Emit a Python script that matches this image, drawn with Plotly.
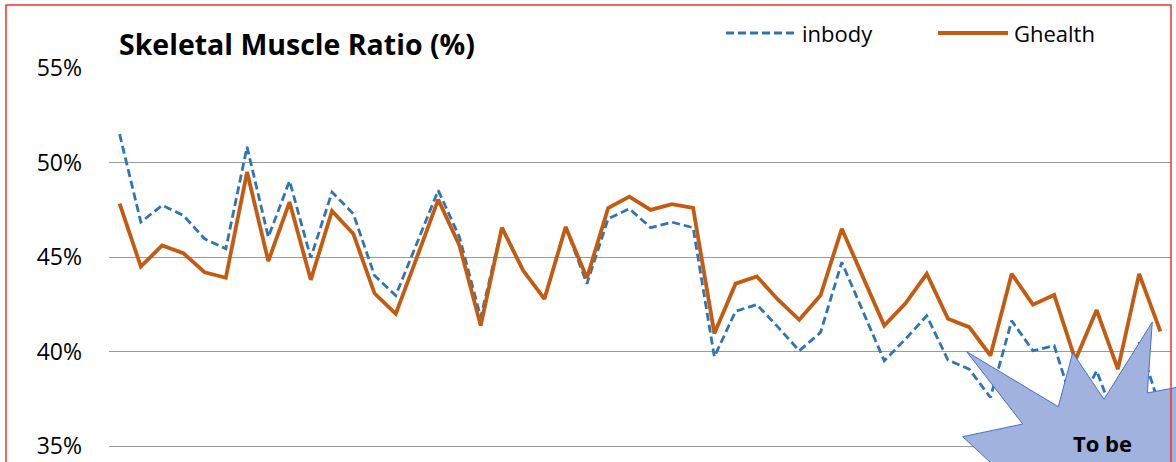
import plotly.graph_objects as go

# measurement index (50 subjects)
subjects = list(range(50))

inbody = [51.5, 46.85, 47.74, 47.21, 45.97, 45.44, 50.83, 46.06, 49.03, 44.97,
          48.44, 47.3, 44.03, 42.97, 45.75, 48.53, 46.06, 41.82, 46.56, 44.29,
          42.79, 46.59, 43.59, 47.03, 47.56, 46.56, 46.85, 46.56, 39.73, 42.14,
          42.49, 41.3, 40.05, 41.02, 44.73, 42.1, 39.52, 40.67, 41.9, 39.56,
          39.08, 37.58, 41.64, 40.05, 40.32, 36.8, 38.99, 36.0, 40.49, 37.0]

ghealth = [47.83, 44.5, 45.62, 45.21, 44.2, 43.91, 49.5, 44.79, 47.91, 43.8,
           47.44, 46.24, 43.09, 42.0, 45.0, 48.04, 45.62, 41.38, 46.56, 44.29,
           42.79, 46.59, 43.9, 47.6, 48.2, 47.5, 47.8, 47.6, 40.97, 43.6,
           43.98, 42.75, 41.69, 42.98, 46.5, 43.94, 41.38, 42.56, 44.12, 41.74,
           41.3, 39.8, 44.12, 42.49, 43.0, 39.56, 42.2, 39.08, 44.12, 41.08]

y_ticks = [35, 40, 45, 50, 55]
y_labels = ['35%', '40%', '45%', '50%', '55%']

BLUE = '#2E75B6'
ORANGE = '#C55A11'
FONT = 'Open Sans'

W, H = 1176, 462
ML, MR, MT, MB = 109, 5, 68, 0


def px(x):
    # pixel -> paper x
    return (x - ML) / (W - ML - MR)


def py(y):
    # pixel -> paper y
    return (H - MB - y) / (H - MT - MB)


fig = go.Figure()
fig.add_trace(go.Scatter(
    x=subjects, y=inbody, name='inbody', mode='lines',
    line=dict(color=BLUE, width=2.8, dash='8px,4px')
))
fig.add_trace(go.Scatter(
    x=subjects, y=ghealth, name='Ghealth', mode='lines',
    line=dict(color=ORANGE, width=3.8)
))

# starburst callout
star = [(966.7, 351.7), (1058.3, 406.7), (1072.7, 352.7), (1104, 399.3),
        (1152.3, 322), (1147.3, 393), (1215, 380), (1300, 560), (1010, 560),
        (1004, 475), (962.7, 436.7), (1022.7, 424)]
path = 'M ' + ' L '.join(f'{px(a):.5f},{py(b):.5f}' for a, b in star) + ' Z'

shapes = [
    dict(type='path', path=path, xref='paper', yref='paper', layer='above',
         fillcolor='#A1B2DE', line=dict(color='#4472C4', width=1)),
    # red frame
    dict(type='rect', xref='paper', yref='paper', layer='above',
         x0=px(6), x1=px(1171), y0=py(480), y1=py(5),
         line=dict(color='#F03030', width=1.5)),
    # legend samples
    dict(type='line', xref='paper', yref='paper', x0=px(726), x1=px(796),
         y0=py(33), y1=py(33), line=dict(color=BLUE, width=2.8, dash='8px,4px')),
    dict(type='line', xref='paper', yref='paper', x0=px(938), x1=px(1008),
         y0=py(33), y1=py(33), line=dict(color=ORANGE, width=3.8)),
]

annotations = [
    dict(text='inbody', x=px(800), y=py(33), xref='paper', yref='paper',
         xanchor='left', yanchor='middle', showarrow=False,
         font=dict(size=22, color='#000', family=FONT)),
    dict(text='Ghealth', x=px(1012), y=py(33), xref='paper', yref='paper',
         xanchor='left', yanchor='middle', showarrow=False,
         font=dict(size=22, color='#000', family=FONT)),
    dict(text='<b>To be</b>', x=px(1102), y=py(443), xref='paper', yref='paper',
         xanchor='center', yanchor='middle', showarrow=False,
         font=dict(size=22, color='#000', family=FONT)),
]

fig.update_layout(
    width=W, height=H,
    margin=dict(l=ML, r=MR, t=MT, b=MB),
    paper_bgcolor='white', plot_bgcolor='white',
    showlegend=False,
    title=dict(text='<b>Skeletal Muscle Ratio (%)</b>', x=119 / W, xanchor='left',
               y=1 - 45 / H, yanchor='middle',
               font=dict(size=28.5, color='#000', family=FONT)),
    font=dict(family=FONT, color='#000'),
    shapes=shapes,
    annotations=annotations,
)
fig.update_xaxes(range=[-0.5, 49.5], showgrid=False, showticklabels=False,
                 zeroline=False, showline=False, ticks='')
fig.update_yaxes(range=[55 - 394 / 18.915, 55], tickvals=y_ticks, ticktext=y_labels,
                 showgrid=True, gridcolor='#9A9A9A', gridwidth=1.3,
                 zeroline=False, showline=False, ticks='',
                 ticklabelstandoff=26, tickfont=dict(size=23, color='#000'))

# drop the default page margin so the figure sits at the window's corner
fig.write_html('out.html', config={'displayModeBar': False},
               post_script="document.body.style.margin='0';")
